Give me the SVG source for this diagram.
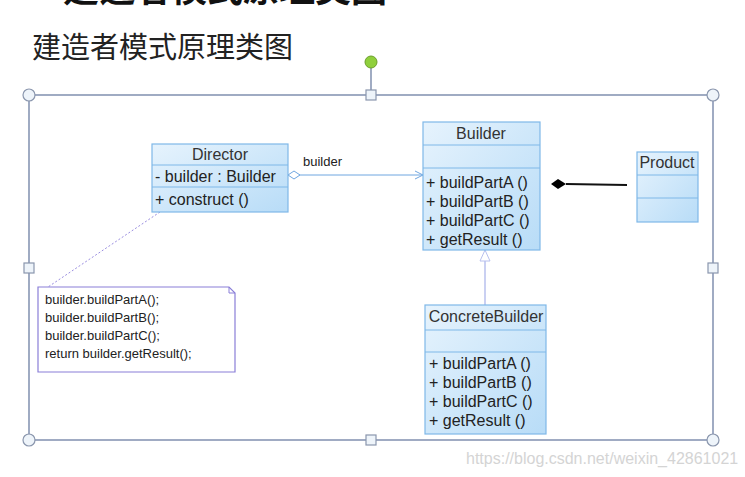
<svg xmlns="http://www.w3.org/2000/svg" width="745" height="477" viewBox="0 0 745 477">
<defs>
<linearGradient id="cls" x1="0" y1="0" x2="1" y2="1">
<stop offset="0" stop-color="#e6f3fd"/>
<stop offset="1" stop-color="#b8dcf7"/>
</linearGradient>
<marker id="openArrow" markerWidth="10" markerHeight="10" refX="9" refY="5" orient="auto" markerUnits="userSpaceOnUse">
<path d="M1,1 L9,5 L1,9" fill="none" stroke="#6fa6e0" stroke-width="1"/>
</marker>
<marker id="hollowDiamond" markerWidth="16" markerHeight="10" refX="1" refY="5" orient="auto" markerUnits="userSpaceOnUse">
<path d="M1,5 L7,1 L13,5 L7,9 Z" fill="#fff" stroke="#6fa6e0" stroke-width="1"/>
</marker>
<marker id="triangle" markerWidth="14" markerHeight="12" refX="12" refY="6" orient="auto" markerUnits="userSpaceOnUse">
<path d="M1,1 L12,6 L1,11 Z" fill="#fff" stroke="#b8c0ee" stroke-width="1"/>
</marker>
</defs>
<style>
.cls{fill:url(#cls);stroke:#7fb8e8;stroke-width:1.2}
.sep{stroke:#7fb8e8;stroke-width:1}
.t{font-family:"Liberation Sans",Arial,sans-serif;font-size:16px;fill:#222}
.tc{font-family:"Liberation Sans",Arial,sans-serif;font-size:16px;fill:#333;text-anchor:middle}
.lbl{font-family:"Liberation Sans",Arial,sans-serif;font-size:13px;fill:#222}
.n{font-family:"Liberation Sans",Arial,sans-serif;font-size:13px;fill:#222}
.frame{fill:none;stroke:#6d7fa3;stroke-width:1.3}
.hc{fill:#eef4fa;stroke:#8a96ad;stroke-width:1.2}
</style>
<rect width="745" height="477" fill="#ffffff"/>
<text x="63" y="2" font-family="'Noto Sans CJK SC',sans-serif" font-size="36" font-weight="bold" fill="#111">建造者模式原理类图</text>
<text x="32" y="58" font-family="'Noto Sans CJK SC',sans-serif" font-size="29" fill="#222">建造者模式原理类图</text>

<g id="frame">
<rect class="frame" x="29" y="95" width="684" height="345"/>
<line x1="371" y1="68" x2="371" y2="95" stroke="#6d7fa3" stroke-width="1.3"/>
<circle cx="371" cy="62" r="6" fill="#8fcf3c" stroke="#6b9f2a" stroke-width="1"/>
<circle class="hc" cx="29" cy="95" r="6"/>
<circle class="hc" cx="713" cy="95" r="6"/>
<circle class="hc" cx="29" cy="440" r="6"/>
<circle class="hc" cx="713" cy="440" r="6"/>
<rect class="hc" x="366" y="90" width="10" height="10"/>
<rect class="hc" x="366" y="435" width="10" height="10"/>
<rect class="hc" x="24" y="263" width="10" height="10"/>
<rect class="hc" x="708" y="263" width="10" height="10"/>
</g>

<g id="connectors">
<line x1="288" y1="175" x2="423" y2="175" stroke="#6fa6e0" stroke-width="1" marker-start="url(#hollowDiamond)" marker-end="url(#openArrow)"/>
<text class="lbl" x="303" y="166">builder</text>
<line x1="485" y1="305" x2="485" y2="250" stroke="#b8c0ee" stroke-width="1.5" marker-end="url(#triangle)"/>
<line x1="160" y1="212" x2="48" y2="287" stroke="#9a8ee0" stroke-width="1" stroke-dasharray="2,2"/>
<line x1="566" y1="184" x2="627" y2="185" stroke="#111" stroke-width="2"/>
<path d="M551,184 L558,179 L566,184 L558,189 Z" fill="#000"/>
</g>

<g id="director">
<rect class="cls" x="152" y="144" width="136" height="68"/>
<line class="sep" x1="152" y1="165" x2="288" y2="165"/>
<line class="sep" x1="152" y1="187" x2="288" y2="187"/>
<text class="tc" x="220" y="160">Director</text>
<text class="t" x="155" y="182">- builder : Builder</text>
<text class="t" x="155" y="205">+ construct ()</text>
</g>

<g id="builder">
<rect class="cls" x="423" y="122" width="117" height="128"/>
<line class="sep" x1="423" y1="145" x2="540" y2="145"/>
<line class="sep" x1="423" y1="168" x2="540" y2="168"/>
<text class="tc" x="481" y="139">Builder</text>
<text class="t" x="426" y="188">+ buildPartA ()</text>
<text class="t" x="426" y="207">+ buildPartB ()</text>
<text class="t" x="426" y="226">+ buildPartC ()</text>
<text class="t" x="426" y="245">+ getResult ()</text>
</g>

<g id="product">
<rect class="cls" x="637" y="152" width="61" height="70"/>
<line class="sep" x1="637" y1="175" x2="698" y2="175"/>
<line class="sep" x1="637" y1="198" x2="698" y2="198"/>
<text class="tc" x="667" y="168">Product</text>
</g>

<g id="concreteBuilder">
<rect class="cls" x="425" y="305" width="121" height="129"/>
<line class="sep" x1="425" y1="330" x2="546" y2="330"/>
<line class="sep" x1="425" y1="352" x2="546" y2="352"/>
<text class="tc" x="486" y="322">ConcreteBuilder</text>
<text class="t" x="429" y="369">+ buildPartA ()</text>
<text class="t" x="429" y="388">+ buildPartB ()</text>
<text class="t" x="429" y="407">+ buildPartC ()</text>
<text class="t" x="429" y="426">+ getResult ()</text>
</g>

<g id="note">
<path d="M38,287 L229,287 L235,293 L235,372 L38,372 Z" fill="#fff" stroke="#8a7fd8" stroke-width="1.2"/>
<path d="M229,287 L229,293 L235,293" fill="none" stroke="#8a7fd8" stroke-width="1"/>
<text class="n" x="45" y="304">builder.buildPartA();</text>
<text class="n" x="45" y="322">builder.buildPartB();</text>
<text class="n" x="45" y="340">builder.buildPartC();</text>
<text class="n" x="45" y="358">return builder.getResult();</text>
</g>

<text x="466" y="464" font-family="'Liberation Sans',Arial,sans-serif" font-size="16" fill="#d4d4d4">https://blog.csdn.net/weixin_42861021</text>
</svg>
